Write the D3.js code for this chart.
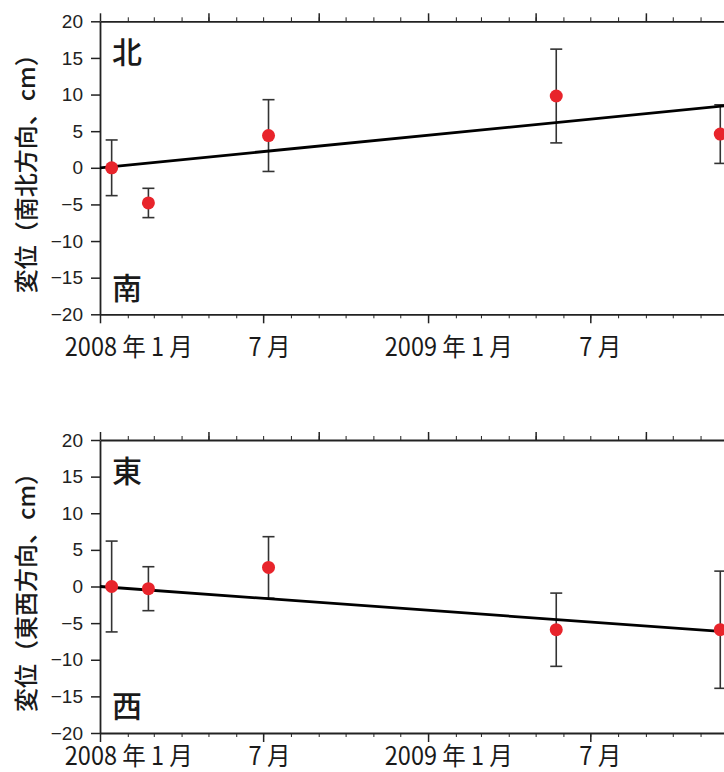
<!DOCTYPE html>
<html>
<head>
<meta charset="utf-8">
<script src="https://cdn.jsdelivr.net/npm/d3@7"></script>
<style>
  body { margin: 0; background: #fff; }
  svg { display: block; }
  .axis path, .axis line { stroke: #222; }
  .axis text { font-family: "Liberation Sans", Arial, sans-serif; font-size: 19px; fill: #222; }
  .cjk { font-family: "Noto Sans CJK JP", sans-serif; fill: #1a1a1a; }
  .heavy { font-weight: 500; }
</style>
</head>
<body>
<div id="chart"></div>
<script>
// Observation dates and displacement (cm) with error bars
var obsDates = ["2008-01-14", "2008-02-24", "2008-07-07", "2009-05-24", "2009-11-23"];
var nsValues = [0, -4.8, 4.4, 9.8, 4.6];
var nsErrors = [3.8, 2.0, 4.9, 6.4, 4.0];
var ewValues = [0, -0.3, 2.6, -5.9, -5.9];
var ewErrors = [6.2, 3.0, 4.2, 5.0, 8.0];

// Fitted trend line end points
var trendDates = ["2008-01-01", "2009-12-01"];
var nsTrend = [0, 8.5];
var ewTrend = [0, -6.2];

// Axis tick values and month labels
var yTicks = [-20, -15, -10, -5, 0, 5, 10, 15, 20];
var labelDates = ["2008-02-01", "2008-07-07", "2009-01-23", "2009-07-11"];
var labelTexts = ["2008 年 1 月", "7 月", "2009 年 1 月", "7 月"];

var svgWidth = 724;
var svgHeight = 772;
var margin = {left: 100};
var width = 640;
var height = 293;

var parse = d3.utcParse("%Y-%m-%d");

var svg = d3.select("#chart")
  .append("svg")
  .attr("width", svgWidth)
  .attr("height", svgHeight);

var xScale = d3.scaleUtc()
  .domain([parse("2008-01-01"), parse("2009-12-15")])
  .range([0, width]);

var yScale = d3.scaleLinear()
  .domain([-20, 20])
  .range([height, 0]);

var months = d3.utcMonth.range(parse("2008-01-01"), parse("2009-12-15"));

var panels = [
  {top: 21.3, values: nsValues, errors: nsErrors, trend: nsTrend,
   title: "変位（南北方向、cm）", upper: "北", lower: "南", labelDy: 42},
  {top: 440, values: ewValues, errors: ewErrors, trend: ewTrend,
   title: "変位（東西方向、cm）", upper: "東", lower: "西", labelDy: 32}
];

panels.forEach(function (p) {
  var g = svg.append("g")
    .attr("transform", `translate(${margin.left}, ${p.top})`);

  var points = obsDates.map(function (d, i) {
    return {date: parse(d), value: p.values[i], err: p.errors[i]};
  });

  // minor month ticks, then major ticks on top
  g.append("g")
    .attr("class", "axis")
    .attr("transform", `translate(0, ${height})`)
    .call(d3.axisBottom(xScale).tickValues(months).tickSize(4).tickSizeOuter(0).tickFormat(""))
    .call(a => a.select(".domain").attr("stroke-width", 1.8));
  g.append("g")
    .attr("class", "axis")
    .attr("transform", `translate(0, ${height})`)
    .call(d3.axisBottom(xScale).tickValues(months.filter(m => m.getUTCMonth() % 6 === 0))
      .tickSize(9).tickSizeOuter(0).tickFormat(""))
    .call(a => a.select(".domain").remove())
    .selectAll("line").attr("stroke-width", 1.5);

  g.append("g")
    .attr("class", "axis")
    .call(d3.axisTop(xScale).tickValues(months).tickSize(4).tickSizeOuter(0).tickFormat(""))
    .call(a => a.select(".domain").attr("stroke-width", 1.8));
  g.append("g")
    .attr("class", "axis")
    .call(d3.axisTop(xScale).tickValues(months.filter(m => m.getUTCMonth() % 4 === 0))
      .tickSize(8).tickSizeOuter(0).tickFormat(""))
    .call(a => a.select(".domain").remove())
    .selectAll("line").attr("stroke-width", 1.5);

  g.append("g")
    .attr("class", "axis")
    .call(d3.axisLeft(yScale).tickValues(yTicks).tickSize(9).tickPadding(8).tickSizeOuter(0))
    .call(a => a.select(".domain").attr("stroke-width", 1.8))
    .call(a => a.selectAll("line").attr("stroke-width", 1.5));

  // month labels below the axis (slightly condensed like the original)
  g.selectAll(".mlabel")
    .data(labelDates)
    .enter()
    .append("text")
    .attr("class", "cjk")
    .attr("transform", d => `translate(${xScale(parse(d)) + 1}, ${height + p.labelDy}) scale(0.94, 1)`)
    .attr("text-anchor", "middle")
    .style("font-size", "25px")
    .text((d, i) => labelTexts[i]);

  // y title
  g.append("text")
    .attr("class", "cjk heavy")
    .attr("transform", `translate(${24 - margin.left}, ${yScale(0)}) rotate(-90)`)
    .attr("text-anchor", "middle")
    .attr("dominant-baseline", "central")
    .style("font-size", "24px")
    .text(p.title);

  // direction labels
  g.append("text")
    .attr("class", "cjk heavy")
    .attr("x", 12)
    .attr("y", yScale(16.1))
    .attr("dominant-baseline", "central")
    .style("font-size", "30px")
    .text(p.upper);
  g.append("text")
    .attr("class", "cjk heavy")
    .attr("x", 12)
    .attr("y", yScale(-16.1))
    .attr("dominant-baseline", "central")
    .style("font-size", "30px")
    .text(p.lower);

  // error bars
  var bars = g.selectAll(".err")
    .data(points)
    .enter()
    .append("g")
    .attr("stroke", "#333")
    .attr("stroke-width", 1.6);
  bars.append("line")
    .attr("x1", d => xScale(d.date))
    .attr("x2", d => xScale(d.date))
    .attr("y1", d => yScale(d.value + d.err))
    .attr("y2", d => yScale(d.value - d.err));
  bars.append("line")
    .attr("x1", d => xScale(d.date) - 6)
    .attr("x2", d => xScale(d.date) + 6)
    .attr("y1", d => yScale(d.value + d.err))
    .attr("y2", d => yScale(d.value + d.err));
  bars.append("line")
    .attr("x1", d => xScale(d.date) - 6)
    .attr("x2", d => xScale(d.date) + 6)
    .attr("y1", d => yScale(d.value - d.err))
    .attr("y2", d => yScale(d.value - d.err));

  // trend line
  var line = d3.line()
    .x(d => xScale(parse(d)))
    .y((d, i) => yScale(p.trend[i]));
  g.append("path")
    .datum(trendDates)
    .attr("d", line)
    .attr("fill", "none")
    .attr("stroke", "#000")
    .attr("stroke-width", 2.8);

  // points
  g.selectAll("circle")
    .data(points)
    .enter()
    .append("circle")
    .attr("cx", d => xScale(d.date))
    .attr("cy", d => yScale(d.value))
    .attr("r", 6.5)
    .attr("fill", "#e8242b");
});
</script>
</body>
</html>
